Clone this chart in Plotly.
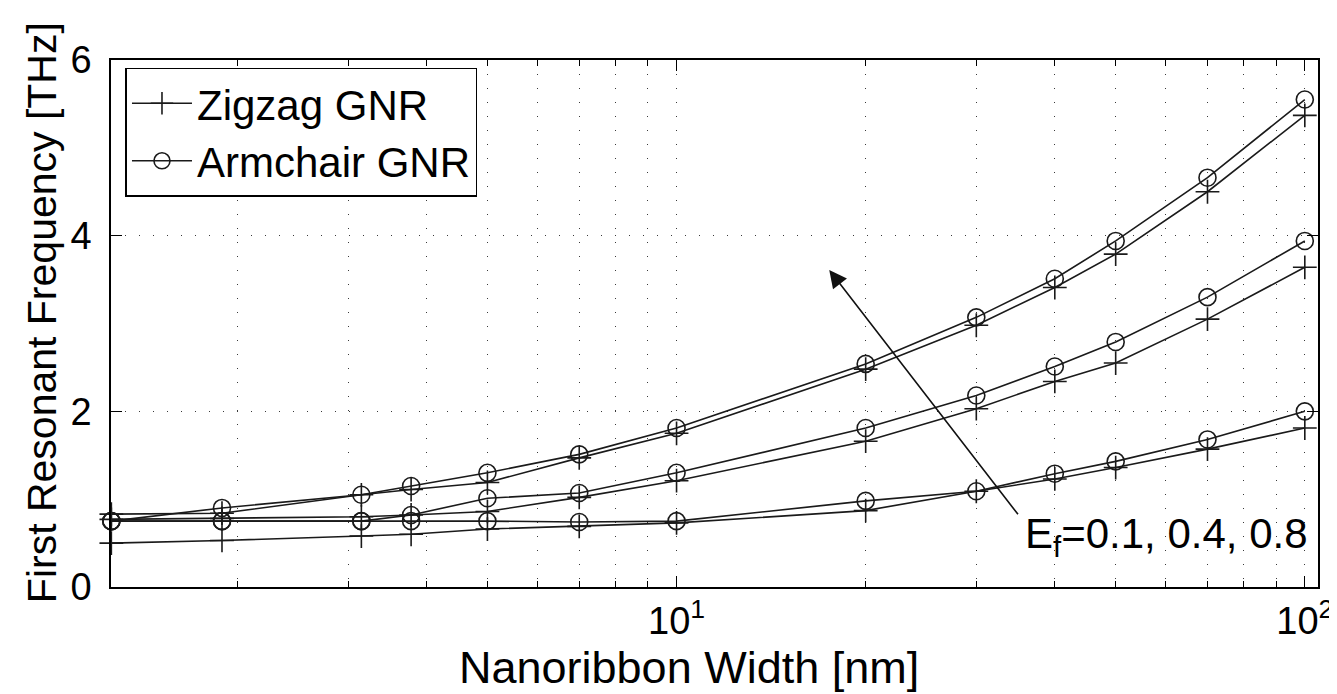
import numpy as np
import plotly.graph_objects as go

# widths [nm]
width_nm = [1.26, 1.89, 3.15, 3.78, 5, 7, 10, 20, 30, 40, 50, 70, 100]

# first resonant frequency [THz]
zigzag = {
    "0.1": [0.50, 0.53, 0.58, 0.60, 0.66, 0.69, 0.73, 0.87, 1.09, 1.23, 1.36, 1.57, 1.81],
    "0.4": [0.77, 0.78, 0.80, 0.82, 0.86, 1.02, 1.21, 1.66, 2.03, 2.34, 2.55, 3.05, 3.64],
    "0.8": [0.83, 0.84, 1.05, 1.11, 1.19, 1.47, 1.75, 2.48, 2.98, 3.41, 3.79, 4.50, 5.37],
}
armchair = {
    "0.1": [0.75, 0.75, 0.75, 0.75, 0.75, 0.74, 0.75, 0.98, 1.09, 1.29, 1.43, 1.68, 2.00],
    "0.4": [0.75, 0.75, 0.75, 0.82, 1.01, 1.07, 1.30, 1.81, 2.18, 2.51, 2.79, 3.30, 3.94],
    "0.8": [0.75, 0.90, 1.05, 1.15, 1.30, 1.51, 1.81, 2.54, 3.07, 3.51, 3.94, 4.66, 5.55],
}

x_major = [10, 100]
x_major_text = ["10<sup>1</sup>", "10<sup>2</sup>"]
x_minor = [2, 3, 4, 5, 6, 7, 8, 9, 20, 30, 40, 50, 60, 70, 80, 90]
y_ticks = [0, 2, 4, 6]

FONT = "Liberation Sans, Arial, Helvetica, sans-serif"
LINE = "#1a1a1a"
GRID = "#3a3a3a"
GRIDDASH = "1px,13px"

fig = go.Figure()

# zigzag (+) and armchair (o) curves
for i, ef in enumerate(["0.1", "0.4", "0.8"]):
    fig.add_trace(go.Scatter(
        x=width_nm, y=zigzag[ef],
        mode="lines+markers",
        line=dict(color=LINE, width=1.6),
        marker=dict(symbol="cross-thin-open", size=17,
                    line=dict(color=LINE, width=1.6)),
        name="Zigzag GNR", legendgroup="zz",
        showlegend=(i == 0), cliponaxis=False,
    ))
for i, ef in enumerate(["0.1", "0.4", "0.8"]):
    fig.add_trace(go.Scatter(
        x=width_nm, y=armchair[ef],
        mode="lines+markers",
        line=dict(color=LINE, width=1.6),
        marker=dict(symbol="circle-open", size=17,
                    line=dict(color=LINE, width=1.6)),
        name="Armchair GNR", legendgroup="ac",
        showlegend=(i == 0), cliponaxis=False,
    ))

# arrow for increasing Ef
fig.add_annotation(
    x=np.log10(17.5), y=3.61, ax=np.log10(35.1), ay=0.81,
    xref="x", yref="y", axref="x", ayref="y",
    text="", showarrow=True,
    arrowhead=2, arrowsize=2.2, arrowwidth=1.6, arrowcolor="#111",
)
fig.add_annotation(
    x=np.log10(35.6), y=0.58, xref="x", yref="y",
    text="E<sub>f</sub>=0.1, 0.4, 0.8",
    showarrow=False, xanchor="left", yanchor="middle",
    font=dict(family=FONT, size=42, color="black"),
)

# axis titles
fig.add_annotation(
    x=0.479, y=-0.152, xref="paper", yref="paper",
    text="Nanoribbon Width [nm]", showarrow=False,
    xanchor="center", yanchor="middle",
    font=dict(family=FONT, size=45, color="black"),
)
fig.add_annotation(
    x=-0.057, y=0.52, xref="paper", yref="paper",
    text="First Resonant Frequency [THz]", showarrow=False,
    textangle=-90, xanchor="center", yanchor="middle",
    font=dict(family=FONT, size=41, color="black"),
)

axis_common = dict(
    showline=True, linecolor="black", linewidth=1.5, mirror="ticks",
    ticks="inside", tickcolor="black",
    showgrid=True, gridcolor=GRID, gridwidth=1, griddash=GRIDDASH,
    zeroline=False,
    tickfont=dict(family=FONT, size=38, color="black"),
)

fig.update_xaxes(
    type="log",
    range=[0.0998, 2.021],
    tickmode="array", tickvals=x_major, ticktext=x_major_text,
    ticklen=11, ticklabelstandoff=0,
    minor=dict(tickmode="array", tickvals=x_minor, ticks="inside",
               ticklen=6, tickcolor="black",
               showgrid=True, gridcolor=GRID, gridwidth=1, griddash=GRIDDASH),
    **axis_common,
)
fig.update_yaxes(
    range=[0, 6],
    tickmode="array", tickvals=y_ticks,
    ticklen=11, ticklabelstandoff=10,
    **axis_common,
)

fig.update_layout(
    width=1337, height=694,
    paper_bgcolor="white", plot_bgcolor="white",
    margin=dict(l=103, r=18, t=52, b=115),
    showlegend=True,
    legend=dict(
        x=0.012, y=0.985, xanchor="left", yanchor="top",
        bgcolor="white", bordercolor="black", borderwidth=1.5,
        font=dict(family=FONT, size=42, color="black"),
        itemwidth=60, tracegroupgap=0,
    ),
)

fig.write_html("out.html")
